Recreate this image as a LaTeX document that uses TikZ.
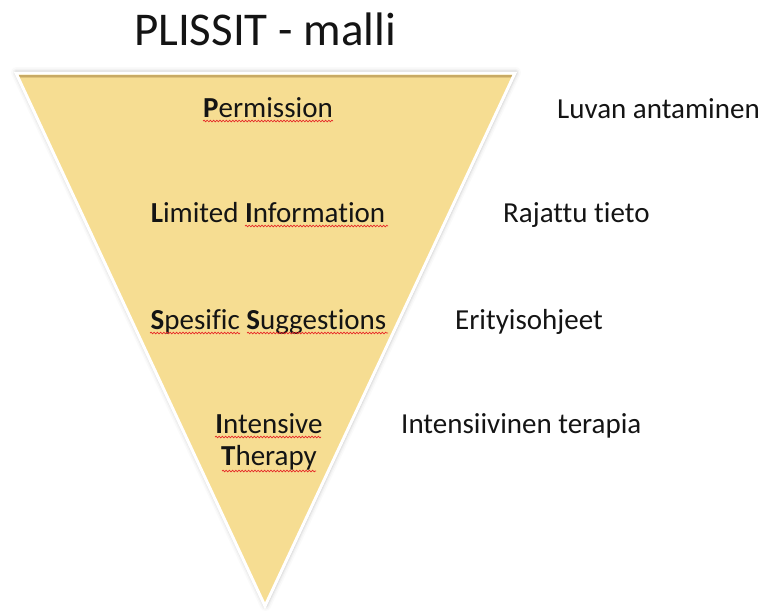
\documentclass[tikz,border=0pt]{standalone}
\usepackage{fontspec}
\setmainfont[Ligatures=CommonOff]{Carlito}
\usetikzlibrary{decorations.pathmorphing}
\definecolor{trifill}{RGB}{246,221,146}
\definecolor{tririm}{RGB}{200,170,100}
\definecolor{txt}{RGB}{20,20,20}
\definecolor{spell}{RGB}{230,40,40}
\begin{document}
\begin{tikzpicture}[x=1pt,y=-1pt,
  lbl/.style={font=\fontsize{29}{33}\selectfont, inner sep=0pt, text=txt},
  ttl/.style={font=\fontsize{47}{52}\selectfont, inner sep=0pt, text=txt},
  wavy/.style={spell, line width=0.7pt, decorate, decoration={snake, amplitude=0.8pt, segment length=3.2pt}},
  shadowline/.style={gray, line join=round}]
\useasboundingbox (0,0) rectangle (763,614);
\coordinate (A) at (16,73);
\coordinate (B) at (515,73);
\coordinate (C) at (265,606);
% soft shadow
\foreach \w/\o in {11/0.04, 8/0.06, 5.5/0.09, 3.5/0.14} {
  \draw[shadowline, line width=\w pt, opacity=\o] ([shift={(0.5,-0.5)}]A) -- ([shift={(0.5,-0.5)}]B) -- ([shift={(0.5,-0.5)}]C) -- cycle;
}
% triangle body
\fill[trifill] (A) -- (B) -- (C) -- cycle;
% darker rim at top inside
\draw[tririm, line width=2pt] ([shift={(3,2.5)}]A) -- ([shift={(-3,2.5)}]B);
\draw[tririm!50!trifill, line width=1.5pt] ([shift={(4,4.5)}]A) -- ([shift={(-4,4.5)}]B);
% white border
\draw[white, line width=3pt, line join=miter] (A) -- (B) -- (C) -- cycle;
% title
\node[ttl, anchor=base] (title) at (265,45) {PLISSIT - malli};
% labels in triangle
\node[lbl, anchor=base] (perm) at (268,117) {\textbf{P}ermission};
\node[lbl, anchor=base] (limi) at (268,222) {\textbf{L}imited \textbf{I}nformation};
\node[lbl, anchor=base] (spes) at (268.5,329) {\textbf{S}pesific \textbf{S}uggestions};
\node[lbl, anchor=base] (inte) at (269,433) {\textbf{I}ntensive};
\node[lbl, anchor=base] (ther) at (269,465) {\textbf{T}herapy};
% Finnish labels
\node[lbl, anchor=base west] (luva) at (557,118) {Luvan antaminen};
\node[lbl, anchor=base west] (raja) at (503,222) {Rajattu tieto};
\node[lbl, anchor=base west] (erit) at (455,329) {Erityisohjeet};
\node[lbl, anchor=base west] (tera) at (401,433) {Intensiivinen terapia};
% spell-check underlines
\draw[wavy] (203,121) -- (333,121);
\draw[wavy] (245,226) -- (388,226);
\draw[wavy] (150,333) -- (240,333);
\draw[wavy] (247,333) -- (388,333);
\draw[wavy] (215,437) -- (321,437);
\draw[wavy] (222,471) -- (316,471);
\end{tikzpicture}
\end{document}
